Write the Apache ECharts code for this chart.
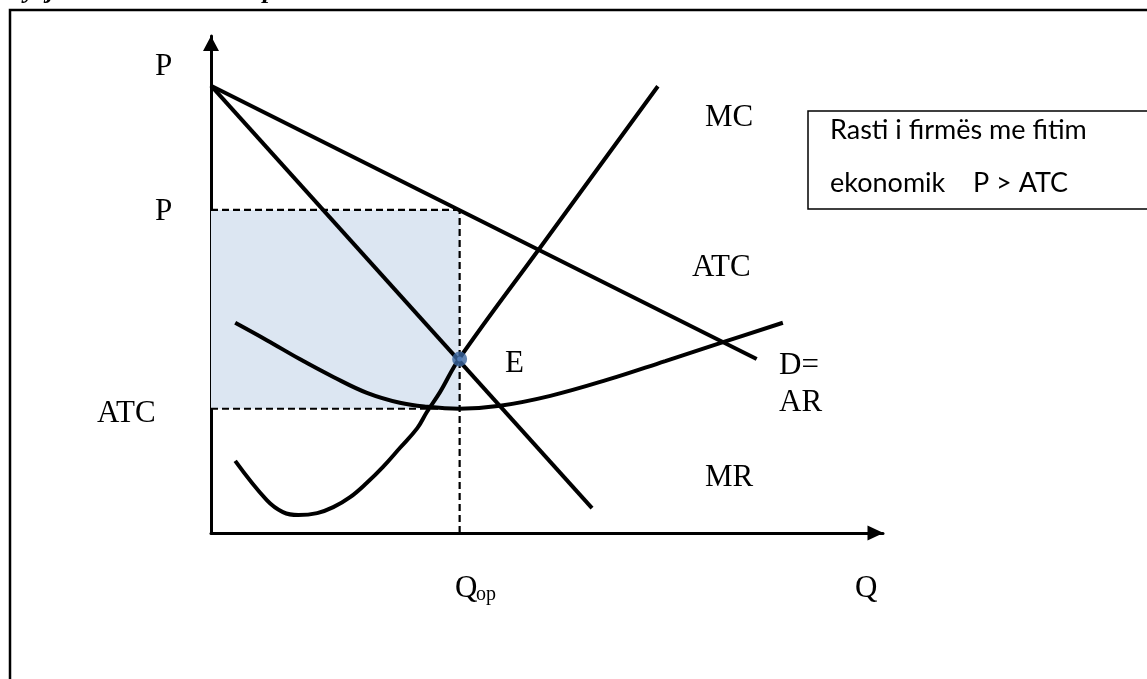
<!DOCTYPE html>
<html>
<head>
<meta charset="utf-8">
<script src="https://cdn.jsdelivr.net/npm/echarts@6/dist/echarts.min.js"></script>
<style>
html,body{margin:0;padding:0;background:#fff;}
#c{width:1147px;height:679px;}
</style>
</head>
<body>
<div id="c"></div>
<script>
// Quantity (Q) and price (P) units, 0..100 scale
const demandQ = [0, 81.2];
const demandP = [90, 35];
const mrQ = [0, 56.7];
const mrP = [90, 5];
const mcQ = [3.6, 8.3, 10.7, 13.0, 15.8, 18.2, 20.7, 23.2, 25.6, 28.1, 30.7, 32.1, 34.1, 36.9, 49.4, 66.5];
const mcP = [14.5, 6.6, 4.2, 3.6, 4.0, 5.2, 7.2, 10.1, 13.3, 17.1, 21.1, 24.3, 28.4, 35.0, 58.2, 89.9];
const atcQ = [3.6, 8.3, 13.2, 18.2, 23.2, 28.1, 32.1, 36.9, 43.0, 50.5, 58.9, 67.6, 76.2, 85.1];
const atcP = [42.3, 38.8, 35.0, 31.4, 28.2, 26.2, 25.4, 25.0, 25.6, 27.6, 30.8, 34.6, 38.4, 42.3];
const qOp = 37;
const priceLevel = 65;
const atcLevel = 25;
const eqP = 35;

const zip = (a, b) => a.map((v, i) => [v, b[i]]);

const chart = echarts.init(document.getElementById('c'));
const serif = '"Liberation Serif", "Times New Roman", serif';
const sans = 'Lato, "Noto Sans", sans-serif';
const lbl = (text, x, y, size) => ({
  type: 'text', left: x, top: y - (size || 31) / 2, z: 10,
  style: { text: text, font: (size || 31) + 'px ' + serif, fill: '#000' }
});
const curve = { color: '#000', width: 4 };
const dash = { color: '#000', width: 2.2, type: [7, 4] };

const option = {
  animation: false,
  backgroundColor: '#fff',
  grid: { left: 211, top: 36, width: 672, height: 497 },
  xAxis: {
    type: 'value', min: 0, max: 100,
    axisLine: { show: true, symbol: ['none', 'triangle'], symbolSize: [15, 16], symbolOffset: [0, -7.5],
      lineStyle: { color: '#000', width: 3 } },
    axisTick: { show: false }, axisLabel: { show: false }, splitLine: { show: false }
  },
  yAxis: {
    type: 'value', min: 0, max: 100,
    axisLine: { show: true, symbol: ['none', 'triangle'], symbolSize: [16, 15], symbolOffset: [0, -7.5],
      lineStyle: { color: '#000', width: 3 } },
    axisTick: { show: false }, axisLabel: { show: false }, splitLine: { show: false }
  },
  series: [
    {
      type: 'line', z: 1, data: [], symbol: 'none',
      markArea: { silent: true, itemStyle: { color: '#dce6f2' },
        data: [[{ coord: [0, atcLevel] }, { coord: [qOp, priceLevel] }]] }
    },
    { type: 'line', z: 2, symbol: 'none', data: [[0, priceLevel], [qOp, priceLevel]], lineStyle: dash },
    { type: 'line', z: 2, symbol: 'none', data: [[0, atcLevel], [qOp, atcLevel]], lineStyle: dash },
    { type: 'line', z: 2, symbol: 'none', data: [[qOp, 0], [qOp, priceLevel]], lineStyle: dash },
    { type: 'line', z: 3, symbol: 'none', data: zip(demandQ, demandP), lineStyle: curve },
    { type: 'line', z: 3, symbol: 'none', data: zip(mrQ, mrP), lineStyle: curve },
    { type: 'line', z: 3, symbol: 'none', smooth: 0.4, data: zip(mcQ, mcP), lineStyle: curve },
    { type: 'line', z: 3, symbol: 'none', smooth: 0.4, data: zip(atcQ, atcP), lineStyle: curve },
    { type: 'scatter', z: 5, symbolSize: 15, data: [[qOp, eqP]], itemStyle: { color: '#3b67a0' } },
    { type: 'scatter', z: 6, symbolSize: 5, data: [[qOp, eqP]], itemStyle: { color: '#5a86c0' } }
  ],
  graphic: [
    { type: 'rect', z: 0, shape: { x: 10, y: 10, width: 1200, height: 700 },
      style: { fill: 'none', stroke: '#000', lineWidth: 2.5 } },
    { type: 'text', left: 24, top: -22, z: 10,
      style: { text: 'yeja', font: 'italic bold 26px ' + serif, fill: '#000' } },
    { type: 'text', left: 245, top: -22, z: 10,
      style: { text: 'e pro', font: 'italic bold 26px ' + serif, fill: '#000' } },
    lbl('P', 155, 67),
    lbl('P', 155, 212),
    lbl('ATC', 97, 414),
    lbl('MC', 705, 118),
    lbl('ATC', 692, 268),
    lbl('E', 505, 364),
    lbl('D=', 779, 366),
    lbl('AR', 779, 403),
    lbl('MR', 705, 478),
    lbl('Q', 455, 589),
    lbl('op', 476, 595, 20),
    lbl('Q', 855, 589),
    { type: 'rect', z: 8, shape: { x: 808, y: 111, width: 400, height: 98 },
      style: { fill: '#fff', stroke: '#000', lineWidth: 1.5 } },
    { type: 'text', left: 830, top: 117, z: 10,
      style: { text: 'Rasti i firmës me fitim', font: '27px ' + sans, fill: '#000' } },
    { type: 'text', left: 830, top: 170, z: 10,
      style: { text: 'ekonomik    P > ATC', font: '27px ' + sans, fill: '#000' } }
  ]
};
chart.setOption(option);
</script>
</body>
</html>
